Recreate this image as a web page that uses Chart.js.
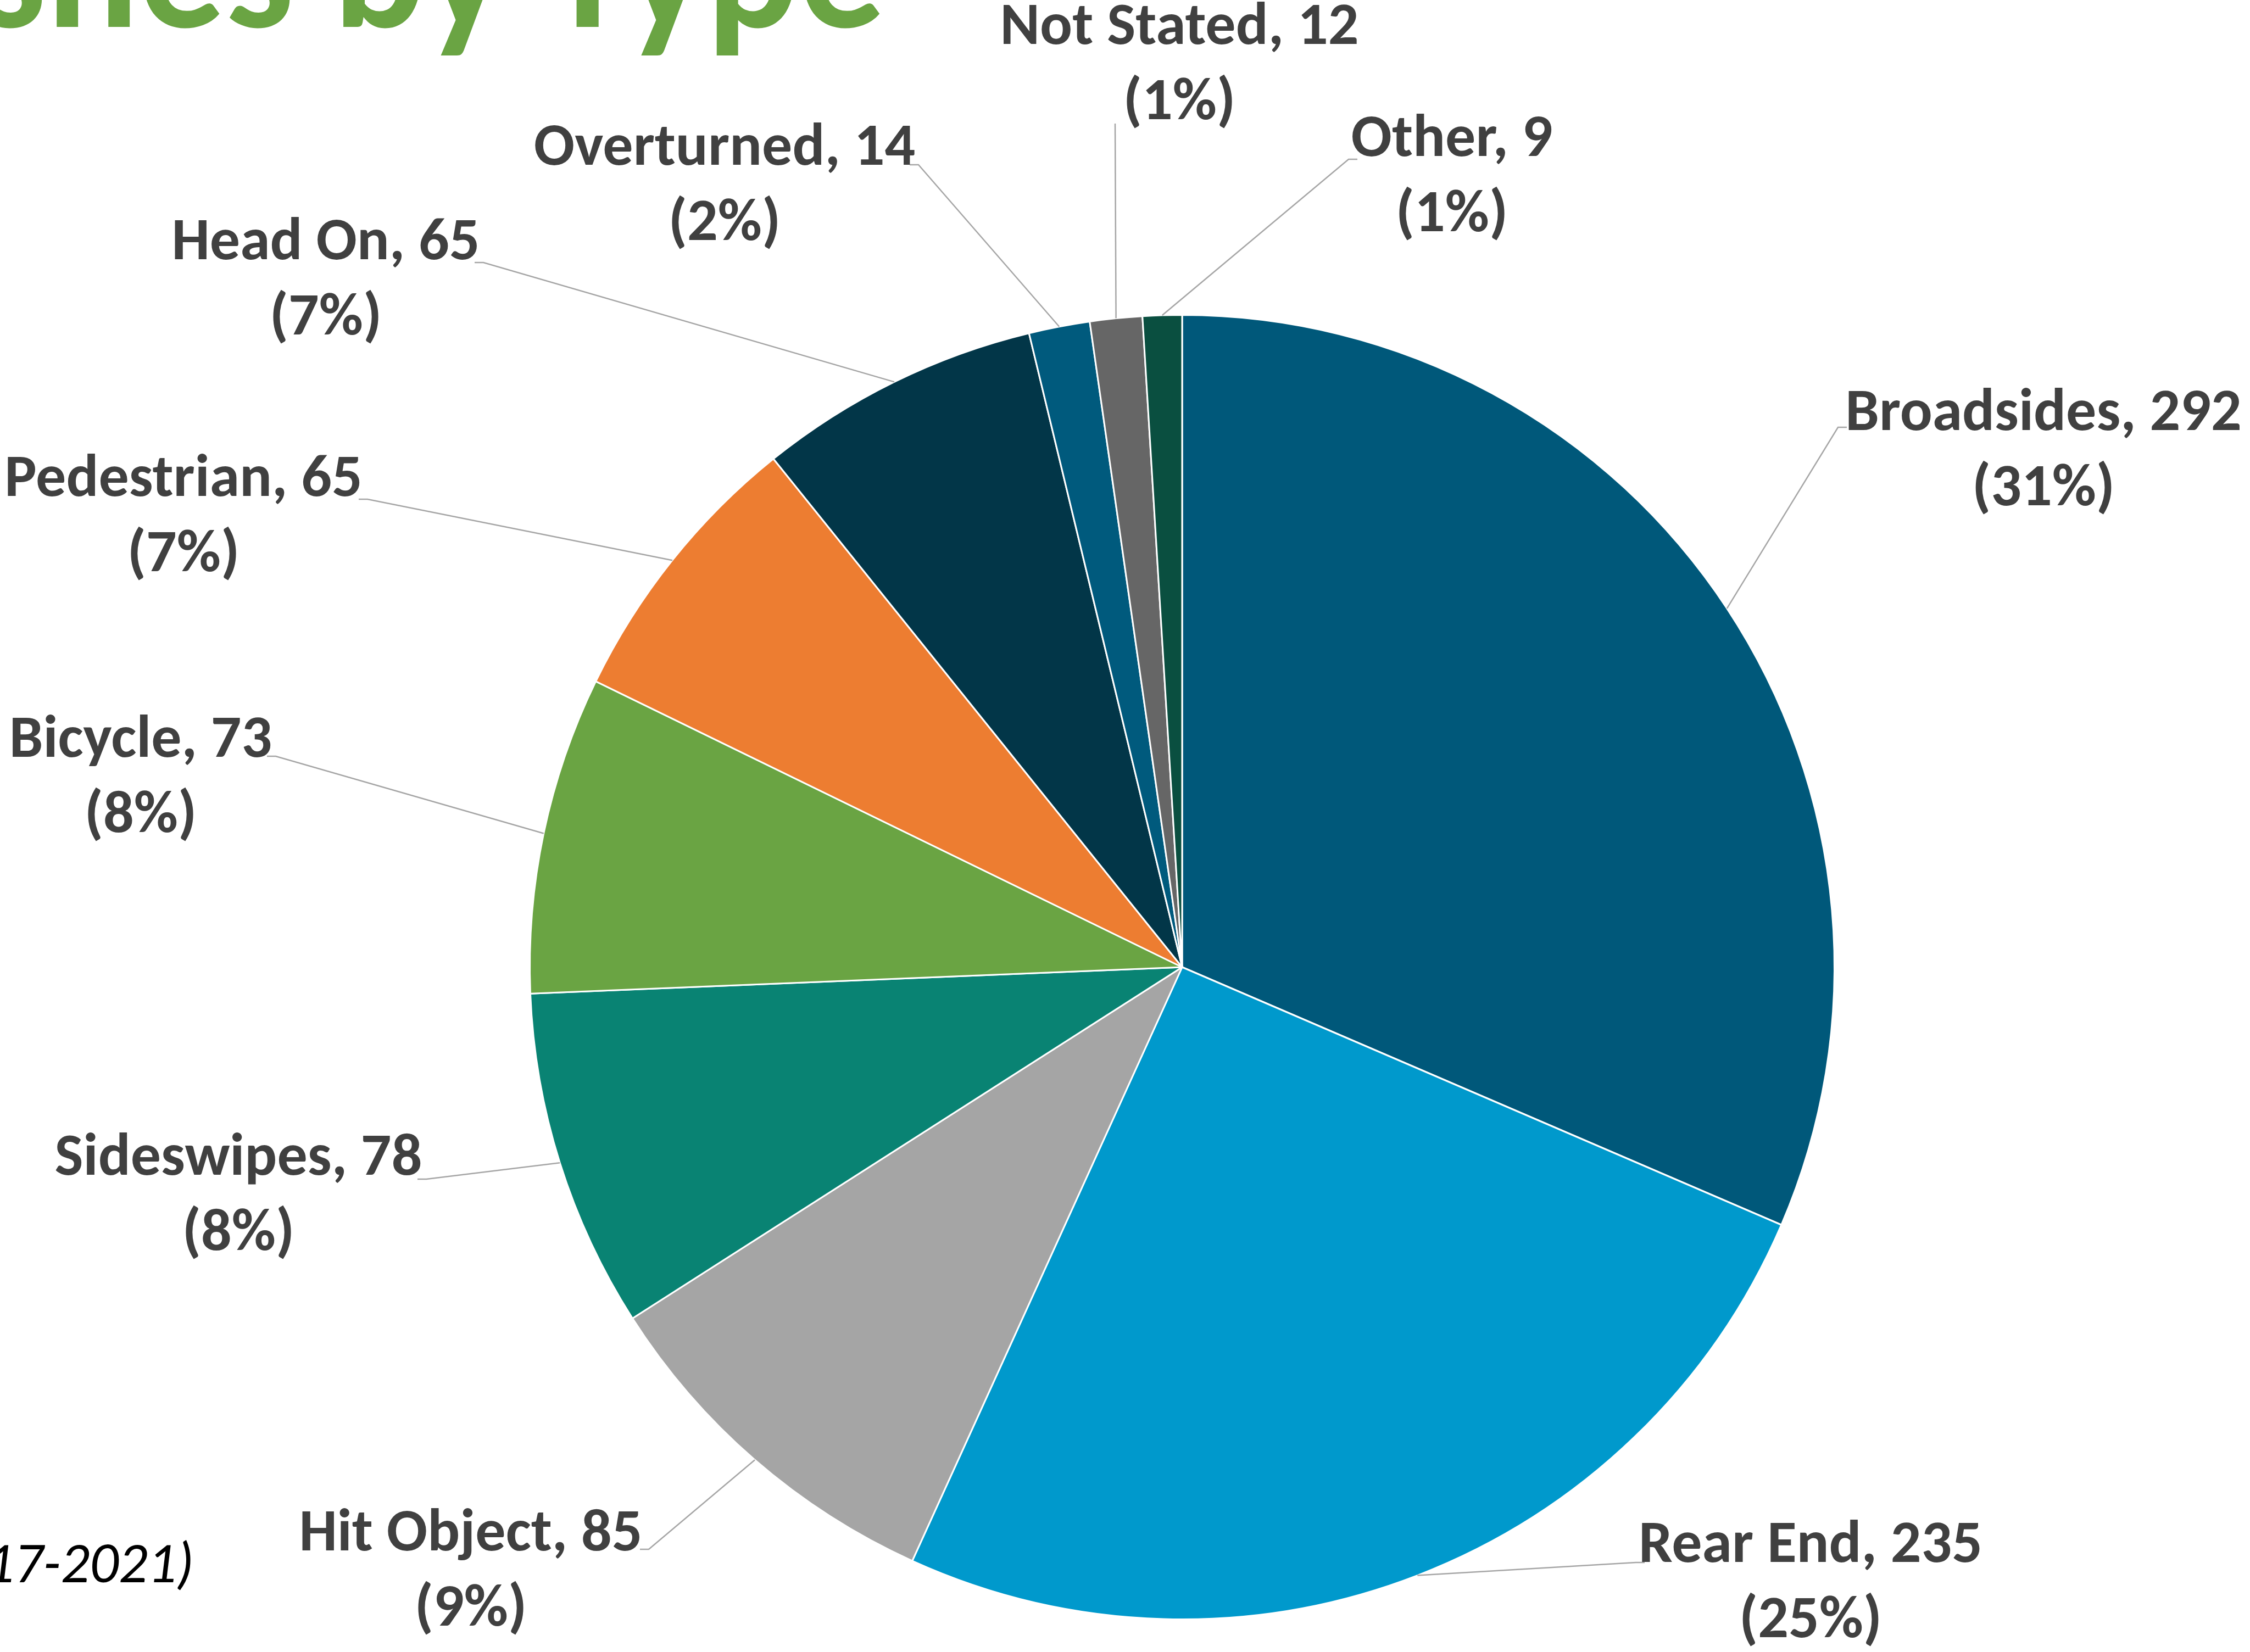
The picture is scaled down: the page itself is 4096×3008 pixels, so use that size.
<!DOCTYPE html>
<html>
<head>
<meta charset="utf-8">
<script src="https://cdn.jsdelivr.net/npm/chart.js@4.4.1/dist/chart.umd.min.js"></script>
<style>
html, body { margin: 0; padding: 0; background: #fff; overflow: hidden; }
#wrap { position: relative; width: 4096px; height: 3008px; }
</style>
</head>
<body>
<div id="wrap"><canvas id="pie-chart" width="4096" height="3008"></canvas></div>
<script>
var categories = ["Broadsides", "Rear End", "Hit Object", "Sideswipes", "Bicycle",
                  "Pedestrian", "Head On", "Overturned", "Not Stated", "Other"];
var crashCounts = [292, 235, 85, 78, 73, 65, 65, 14, 12, 9];
var sliceColors = ["#00587A", "#0099CC", "#A5A5A5", "#098373", "#6AA443",
                   "#ED7D31", "#023648", "#005A7D", "#666666", "#0A4F40"];

// where each data label sits: text centre x, first line centre y, leader end point
var labelSpots = [
    {cx: 3720, cy: 755,  lx: 3346, ly: 778,  side: 1},
    {cx: 3296, cy: 2816, lx: 2978, ly: 2845, side: 1},
    {cx: 857,  cy: 2795, lx: 1181, ly: 2821, side: -1},
    {cx: 434,  cy: 2111, lx: 776,  ly: 2147, side: -1},
    {cx: 256,  cy: 1350, lx: 502,  ly: 1377, side: -1},
    {cx: 334,  cy: 875,  lx: 669,  ly: 909,  side: -1},
    {cx: 593,  cy: 444,  lx: 880,  ly: 478,  side: -1},
    {cx: 1319, cy: 272,  lx: 1672, ly: 300,  side: -1},
    {cx: 2147, cy: 52,   lx: 2030, ly: 225,  side: 0},
    {cx: 2643, cy: 256,  lx: 2455, ly: 290,  side: 1}
];

var fontStack = "Carlito, 'Liberation Sans Narrow', 'Open Sans', sans-serif";
var labelFont = "bold 110px " + fontStack;
var lineGap = 137;

var total = crashCounts.reduce(function (a, b) { return a + b; }, 0);

var pieLabels = {
    id: 'pieLabels',
    afterDraw: function (chart) {
        var ctx = chart.ctx;
        var arcs = chart.getDatasetMeta(0).data;
        ctx.save();

        // title, cut off at the top like the slide (slightly narrower face)
        ctx.save();
        ctx.translate(1612, 49);
        ctx.scale(0.95, 1);
        ctx.fillStyle = "#6AA443";
        ctx.font = "bold 330px " + fontStack;
        ctx.textAlign = "right";
        ctx.textBaseline = "alphabetic";
        ctx.fillText("Crashes by Type", 0, 0);
        ctx.restore();

        // period note at the bottom left
        ctx.fillStyle = "#000";
        ctx.font = "italic 104px " + fontStack;
        ctx.textAlign = "right";
        ctx.textBaseline = "middle";
        ctx.fillText("(2017-2021)", 353, 2855);

        arcs.forEach(function (arc, i) {
            var p = arc.getProps(['x', 'y', 'startAngle', 'endAngle', 'outerRadius'], true);
            var mid = (p.startAngle + p.endAngle) / 2;
            var ex = p.x + Math.cos(mid) * p.outerRadius;
            var ey = p.y + Math.sin(mid) * p.outerRadius;
            var s = labelSpots[i];

            ctx.strokeStyle = "#A6A6A6";
            ctx.lineWidth = 2.5;
            ctx.beginPath();
            ctx.moveTo(ex, ey);
            ctx.lineTo(s.lx, s.ly);
            if (s.side !== 0) ctx.lineTo(s.lx + s.side * 16, s.ly);
            ctx.stroke();

            var pct = Math.round(crashCounts[i] / total * 100);
            ctx.fillStyle = "#404040";
            ctx.font = labelFont;
            ctx.textAlign = "center";
            ctx.textBaseline = "middle";
            ctx.fillText(categories[i] + ", " + crashCounts[i], s.cx, s.cy);
            ctx.fillText("(" + pct + "%)", s.cx, s.cy + lineGap);
        });
        ctx.restore();
    }
};

new Chart(document.getElementById("pie-chart"), {
    type: 'pie',
    data: {
        labels: categories,
        datasets: [{
            data: crashCounts,
            backgroundColor: sliceColors,
            borderColor: "#FFFFFF",
            borderWidth: 3
        }]
    },
    options: {
        responsive: false,
        animation: false,
        devicePixelRatio: 1,
        layout: {
            padding: {left: 963, right: 755, top: 572, bottom: 58}
        },
        plugins: {
            legend: {display: false},
            tooltip: {enabled: false}
        }
    },
    plugins: [pieLabels]
});
</script>
</body>
</html>
